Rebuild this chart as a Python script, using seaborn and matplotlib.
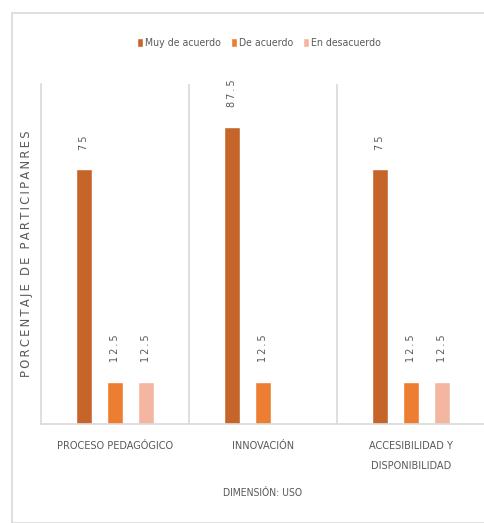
import matplotlib
matplotlib.use("Agg")
import matplotlib.pyplot as plt
import seaborn as sns
import pandas as pd
import numpy as np
from matplotlib.patches import Rectangle

categories = ["PROCESO PEDAGÓGICO", "INNOVACIÓN", "ACCESIBILIDAD Y\nDISPONIBILIDAD"]
series = ["Muy de acuerdo", "De acuerdo", "En desacuerdo"]
muy_de_acuerdo = [75, 87.5, 75]
de_acuerdo = [12.5, 12.5, 12.5]
en_desacuerdo = [12.5, np.nan, 12.5]
colors = ["#C5652A", "#ED7D31", "#F4B6A1"]

rows = []
for s, vals in zip(series, [muy_de_acuerdo, de_acuerdo, en_desacuerdo]):
    for c, v in zip(categories, vals):
        rows.append({"Dimensión": c, "Serie": s, "Valor": v})
df = pd.DataFrame(rows)

sns.set_theme(style="white")
plt.rcParams["font.family"] = ["DejaVu Sans"]
plt.rcParams["font.stretch"] = "condensed"

def spaced(t, sep="\u2009"):
    return sep.join(t)

fig = plt.figure(figsize=(4.85, 5.23), dpi=100)
ax = fig.add_axes([41/485, 1 - 424/523, 444/485, 340/523])

sns.barplot(data=df.dropna(), x="Dimensión", y="Valor", hue="Serie",
            order=categories, hue_order=series, palette=colors,
            width=0.63, gap=0.49, errorbar=None, ax=ax, saturation=1,
            legend=True)

ax.set_ylim(0, 100)
ax.set_xlim(-0.5, 2.5)
ax.set_yticks([])
ax.tick_params(axis="x", length=0, pad=12)
gray = "#595959"
ax.set_xticklabels(categories, fontsize=7.8, color=gray, linespacing=2.3,
                   stretch="condensed")
ax.set_xlabel("DIMENSIÓN: USO", fontsize=7.5, color=gray, labelpad=12,
              stretch="condensed")
ax.set_ylabel(spaced("PORCENTAJE DE PARTICIPANRES"), fontsize=8.3, color=gray,
              labelpad=6, stretch="normal")

ax.spines["top"].set_visible(False)
for sp in ["left", "right", "bottom"]:
    ax.spines[sp].set_color("#D9D9D9")
    ax.spines[sp].set_linewidth(1.2)
for xv in [0.5, 1.5]:
    ax.axvline(xv, color="#D9D9D9", lw=1.2, zorder=0)

for cont in ax.containers:
    labels = []
    for b in cont:
        h = b.get_height()
        labels.append("" if np.isnan(h) else spaced("%g" % h))
    ax.bar_label(cont, labels=labels, rotation=90, padding=14, fontsize=7,
                 color=gray, stretch="normal")

handles, labs = ax.get_legend_handles_labels()
ax.get_legend().remove()
fig.legend(handles, labs, loc="center", bbox_to_anchor=(259/485, 1 - 43/523),
           ncol=3, frameon=False, handlelength=0.6,
           handleheight=1.0, handletextpad=0.2, columnspacing=0.9,
           labelcolor=gray, prop={"size": 7.6, "stretch": "condensed"})

fig.patches.append(Rectangle((12/485, 0), 1, 1 - 13/523, transform=fig.transFigure,
                             fill=False, edgecolor="#D9D9D9", lw=1.2))

fig.savefig("out.png", dpi=100)
